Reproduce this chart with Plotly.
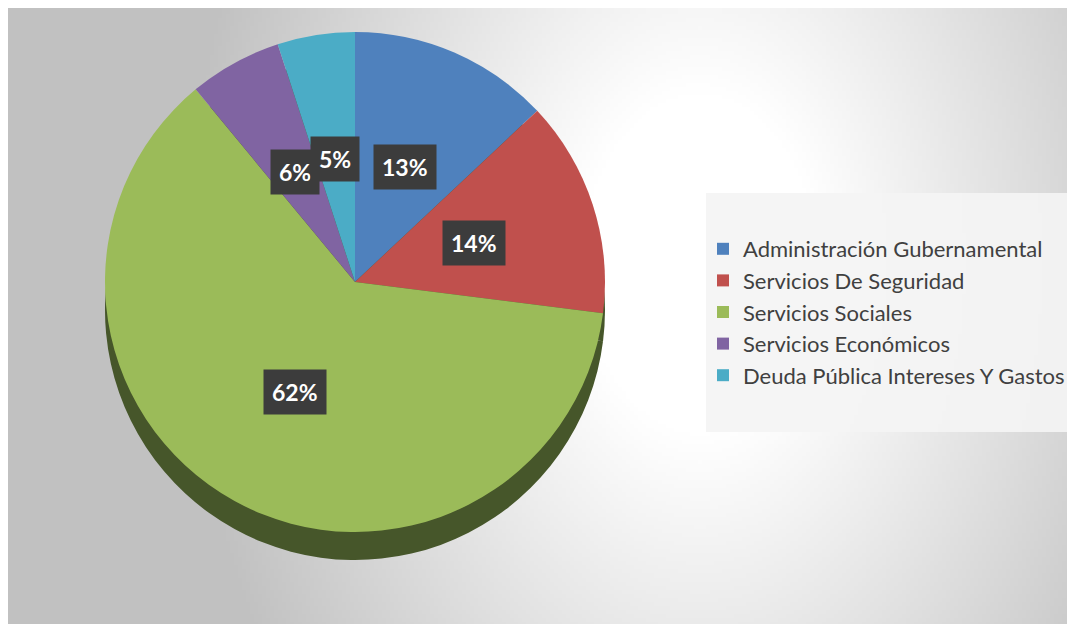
import base64, struct, zlib, math
import numpy as np
import plotly.graph_objects as go

# ---- data ----
labels = ["Administración Gubernamental", "Servicios De Seguridad", "Servicios Sociales",
          "Servicios Económicos", "Deuda Pública Intereses Y Gastos"]
values = [13, 14, 62, 6, 5]
colors = ["#4f81bd", "#c0504d", "#9bbb59", "#8064a2", "#4bacc6"]
side_color = "#46562a"

W, H = 1075, 624
OFF = 8  # the page body margin shifts the figure by 8px

def fx(page_x):
    return (page_x - OFF) / W

def fy(page_y):
    return 1 - (page_y - OFF) / H

# ---- background gradient image (decoration) ----
def png_data_uri(arr):
    h, w, _ = arr.shape
    raw = b"".join(b"\x00" + arr[i].tobytes() for i in range(h))
    def chunk(t, d):
        c = struct.pack(">I", len(d)) + t + d
        return c + struct.pack(">I", zlib.crc32(t + d) & 0xffffffff)
    png = b"\x89PNG\r\n\x1a\n" + chunk(b"IHDR", struct.pack(">IIBBBBB", w, h, 8, 2, 0, 0, 0)) \
        + chunk(b"IDAT", zlib.compress(raw, 9)) + chunk(b"IEND", b"")
    return "data:image/png;base64," + base64.b64encode(png).decode()

gw, gh = 266, 154
yy, xx = np.mgrid[0:gh, 0:gw]
px = xx / (gw - 1) * 1065 + 7
py = yy / (gh - 1) * 616 + 8
d = np.sqrt((px - 700) ** 2 + ((py - 260) * 0.7) ** 2)
t = np.clip((d - 120) / 400, 0, 1)
val = 255 - t * 62
img = np.stack([val, val, val], axis=-1).astype(np.uint8)
bg_uri = png_data_uri(img)

# ---- pie geometry (page pixels) ----
PCX, PCY, PR = 355, 282, 250
SIDE = 28
dom_x = [fx(PCX - PR), fx(PCX + PR)]
dom_y = [fy(PCY + PR), fy(PCY - PR)]
side_dom_y = [fy(PCY + PR + SIDE), fy(PCY - PR + SIDE)]

fig = go.Figure()
# 3D side (extrusion) drawn below the top face
fig.add_trace(go.Pie(
    labels=labels, values=values, sort=False, direction="clockwise", rotation=0,
    marker=dict(colors=[side_color] * len(values), line=dict(width=0)), textinfo="none",
    hoverinfo="skip", showlegend=False,
    domain=dict(x=dom_x, y=side_dom_y),
))
fig.add_trace(go.Pie(
    labels=labels, values=values, sort=False, direction="clockwise", rotation=0,
    marker=dict(colors=colors, line=dict(width=0)), textinfo="none",
    hovertemplate="%{label}: %{percent}<extra></extra>",
    domain=dict(x=dom_x, y=dom_y),
))

# percentage labels placed at slice mid-angles
total = sum(values)
cum = 0
annotations = []
for v in values:
    mid = (cum + v / 2) / total
    cum += v
    th = 2 * math.pi * mid
    f = 0.5
    lx = PCX + f * PR * math.sin(th)
    ly = PCY - f * PR * math.cos(th)
    annotations.append(dict(
        x=fx(lx), y=fy(ly), xref="paper", yref="paper", showarrow=False,
        xanchor="center", yanchor="middle",
        text="<b>%d%%</b>" % round(100 * v / total),
        font=dict(family="Lato, Open Sans, sans-serif", size=23, color="white"),
        bgcolor="#3c3c3c", borderpad=8,
    ))

fig.update_layout(
    width=W, height=H, margin=dict(l=0, r=0, t=0, b=0),
    paper_bgcolor="white", plot_bgcolor="white",
    images=[dict(source=bg_uri, xref="paper", yref="paper", x=0, y=1,
                 sizex=(1072 - OFF) / W, sizey=1, sizing="stretch", layer="below",
                 xanchor="left", yanchor="top")],
    shapes=[dict(type="rect", xref="paper", yref="paper", x0=fx(706), x1=fx(1070),
                 y0=fy(432), y1=fy(193), line=dict(width=0),
                 fillcolor="rgba(244,244,244,0.92)", layer="below")],
    annotations=annotations,
    legend=dict(x=fx(703), y=fy(312), xanchor="left", yanchor="middle",
                bgcolor="rgba(0,0,0,0)",
                font=dict(family="Lato, Open Sans, sans-serif", size=22, color="#404040"),
                itemwidth=30, traceorder="normal"),
)

fig.write_html("out.html")
